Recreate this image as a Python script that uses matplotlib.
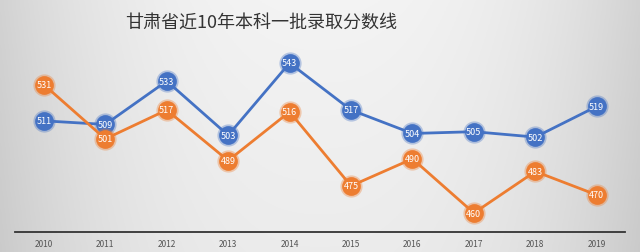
import numpy as np
import matplotlib.pyplot as plt

plt.rcParams['font.family'] = ['Noto Sans CJK SC', 'DejaVu Sans']

# 甘肃省本科一批录取分数线
years = [2010, 2011, 2012, 2013, 2014, 2015, 2016, 2017, 2018, 2019]
blue_scores = [511, 509, 533, 503, 543, 517, 504, 505, 502, 519]
orange_scores = [531, 501, 517, 489, 516, 475, 490, 460, 483, 470]
title = '甘肃省近10年本科一批录取分数线'

BLUE = '#4472c4'
ORANGE = '#ed7d31'

fig = plt.figure(figsize=(6.4, 2.53), dpi=100)

# light grey background, darker toward the edges
bg = fig.add_axes([0, 0, 1, 1], zorder=-10)
xx = np.linspace(-1, 1, 320)
yy = np.linspace(-1, 1, 128)
X, Y = np.meshgrid(xx, yy)
shade = 0.955 - 0.13 * np.abs(X) ** 2.5 - 0.03 * (Y + 1) / 2
bg.imshow(np.dstack([shade] * 3), aspect='auto', extent=[0, 1, 0, 1])
bg.axis('off')

ax = fig.add_axes([15 / 640, 20 / 253, 610 / 640, 233 / 253])
ax.patch.set_alpha(0)

for scores, color, z in [(blue_scores, BLUE, 2), (orange_scores, ORANGE, 3)]:
    ax.plot(years, scores, color=color, lw=2.0, zorder=z)
    ax.plot(years, scores, 'o', color=color, ms=16, alpha=0.35, mec='none', zorder=z)
    ax.plot(years, scores, 'o', color=color, ms=13.5, mec='none', zorder=z)
    for x, v in zip(years, scores):
        ax.text(x, v, str(v), ha='center', va='center', color='white',
                fontsize=6.5, zorder=5)

ax.set_xlim(2009.53, 2019.46)
ax.set_ylim(449.5, 578.4)
ax.set_yticks([])
ax.set_xticks(years)
ax.set_xticklabels([str(y) for y in years], fontsize=6, color='#555555')
ax.tick_params(axis='x', length=0, pad=5)
for s in ['top', 'right', 'left']:
    ax.spines[s].set_visible(False)
ax.spines['bottom'].set_color('#333333')
ax.spines['bottom'].set_linewidth(1.3)

fig.text(261 / 640, 1 - 23 / 253, title, ha='center', va='center',
         fontsize=13, color='#333333')

fig.savefig('out.png', dpi=100)
